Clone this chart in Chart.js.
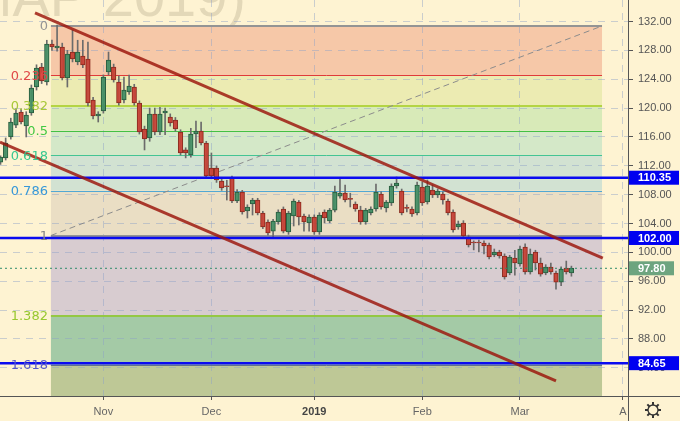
<!DOCTYPE html>
<html>
<head>
<meta charset="utf-8">
<script src="https://cdn.jsdelivr.net/npm/chart.js@4.4.1/dist/chart.umd.min.js"></script>
<style>
  html, body { margin: 0; padding: 0; background: #fef3d2; }
  canvas { display: block; }
</style>
</head>
<body>
<canvas id="grafico" width="680" height="421"></canvas>
<script>
// velas diarias (una por sesion)
const opens = [
  112.5, 113.08, 116.0, 117.65, 119.46, 117.52, 119.32, 122.92, 125.69, 123.62,
  128.88, 128.33, 128.47, 124.17, 127.77, 126.39, 127.22, 126.8, 121.12, 118.9,
  119.6, 125.0, 125.69, 123.62, 121.12, 122.23, 122.92, 120.7, 117.1, 115.86,
  119.18, 116.69, 119.32, 118.76, 118.35, 116.69, 114.2, 113.5, 116.41, 116.83,
  115.16, 111.7, 111.7, 109.89, 109.2, 110.31, 107.12, 108.37, 105.74, 106.71,
  107.26, 105.46, 104.21, 102.96, 104.21, 106.01, 102.83, 105.04, 106.98, 105.04,
  104.07, 104.91, 102.83, 105.6, 104.35, 105.87, 107.81, 108.23, 107.4, 106.71,
  105.87, 104.21, 105.46, 106.01, 108.09, 106.15, 106.85, 109.2, 108.51, 106.2,
  106.01, 105.46, 109.06, 106.98, 108.64, 107.95, 108.09, 107.12, 105.6, 103.52,
  104.07, 102.13, 101.35, 101.44, 101.3, 101.03, 99.64, 100.06, 99.5, 97.14,
  99.22, 98.39, 100.75, 97.28, 100.06, 98.53, 97.14, 97.97, 97.14, 95.89,
  97.83, 97.14
];
const highs = [
  113.4, 115.86, 118.6, 119.9, 119.9, 119.5, 123.2, 126.0, 126.2, 129.4,
  129.44, 131.5, 129.0, 128.0, 130.8, 129.4, 129.4, 129.16, 121.5, 119.5,
  124.6, 127.77, 126.1, 124.45, 124.31, 124.59, 123.3, 121.0, 117.5, 120.0,
  120.0, 120.1, 120.0, 119.2, 118.7, 117.0, 114.5, 117.2, 118.2, 118.07,
  115.4, 113.78, 112.0, 110.3, 110.0, 110.59, 108.7, 108.6, 106.6, 107.5,
  107.5, 105.7, 104.5, 104.6, 105.9, 106.3, 105.7, 107.4, 107.2, 105.3,
  105.2, 105.2, 105.5, 105.9, 106.1, 109.2, 110.17, 109.34, 108.2, 107.0,
  106.4, 106.1, 106.3, 109.47, 108.4, 107.2, 109.5, 110.45, 108.78, 106.6,
  106.3, 109.75, 109.75, 110.03, 109.34, 108.8, 108.4, 107.4, 105.9, 104.35,
  104.4, 102.4, 101.6, 101.7, 101.6, 101.3, 100.47, 100.3, 99.8, 99.6,
  100.3, 100.89, 101.2, 100.47, 100.3, 99.22, 98.3, 98.53, 97.4, 98.0,
  98.8, 98.1
];
const lows = [
  112.2, 112.8, 115.7, 117.3, 117.8, 116.0, 119.0, 122.5, 123.4, 123.2,
  128.0, 127.9, 123.9, 122.92, 126.4, 126.0, 125.6, 120.3, 118.5, 118.07,
  119.3, 124.6, 123.6, 120.4, 120.7, 121.9, 120.4, 116.4, 114.2, 115.4,
  116.3, 116.3, 116.3, 117.5, 116.8, 113.5, 113.1, 113.2, 114.5, 114.9,
  110.3, 110.2, 109.7, 108.6, 107.26, 106.9, 106.9, 105.3, 104.77, 105.18,
  105.2, 103.3, 102.4, 102.13, 103.9, 102.7, 102.5, 103.66, 103.8, 102.96,
  102.96, 102.5, 102.5, 104.07, 104.1, 105.6, 107.5, 107.0, 106.3, 105.7,
  103.9, 103.9, 105.2, 105.7, 106.0, 105.6, 106.5, 108.9, 105.2, 105.6,
  105.0, 105.2, 106.5, 106.7, 107.6, 107.6, 106.7, 105.2, 102.8, 103.2,
  102.0, 100.75, 100.35, 100.06, 99.78, 99.1, 99.4, 99.2, 96.3, 96.9,
  96.86, 98.1, 97.0, 97.0, 97.56, 96.7, 96.9, 97.0, 94.92, 95.4,
  97.0, 96.7
];
const closes = [
  113.2, 115.16, 118.07, 119.32, 118.07, 119.04, 122.78, 125.56, 123.75, 128.88,
  128.47, 128.6, 124.17, 127.5, 126.8, 127.77, 125.97, 120.7, 118.9, 119.18,
  124.31, 126.66, 123.9, 120.7, 122.51, 123.06, 120.7, 116.69, 115.72, 119.18,
  116.69, 119.18, 119.6, 117.93, 117.1, 113.78, 113.78, 116.41, 116.83, 115.16,
  110.59, 110.59, 110.03, 108.92, 109.1, 107.12, 108.37, 105.6, 106.29, 107.26,
  105.46, 103.52, 102.69, 104.35, 105.6, 102.96, 105.46, 107.12, 104.91, 104.21,
  104.91, 102.83, 105.18, 104.77, 105.87, 108.37, 108.23, 107.26, 107.35, 106.01,
  104.21, 105.87, 106.01, 108.37, 106.29, 106.98, 109.2, 109.61, 105.46, 106.1,
  105.32, 109.34, 106.85, 109.2, 107.95, 108.51, 107.26, 105.46, 103.1, 103.93,
  102.27, 101.03, 101.3, 101.3, 100.89, 99.36, 100.06, 99.5, 96.59, 99.36,
  98.53, 100.47, 97.28, 99.78, 98.53, 97.0, 97.97, 97.28, 95.89, 97.7,
  97.28, 97.8
];

// eje temporal: posicion de cada mes en numero de sesion
const monthTickIdx = [20, 41, 61, 82, 101, 121];
const monthLabels = ["Nov", "Dec", "2019", "Feb", "Mar", "A"];
const yTickValues = [84, 88, 92, 96, 100, 104, 108, 112, 116, 120, 124, 128, 132];

// retroceso de Fibonacci
const fibRatios = [0, 0.236, 0.382, 0.5, 0.618, 0.786, 1, 1.382, 1.618];
const fibHigh = 131.38;
const fibLow = 102.34;
const fibStartIdx = 9.8;
const fibEndIdx = 116.95;

// lineas de tendencia [sesion, precio]
const upperTrend = [[6.7, 133.18], [117.1, 99.22]];
const lowerTrend = [[-0.1, 115.3], [108.0, 82.18]];

// niveles horizontales y ultimo precio
const hLevels = [110.35, 102.00, 84.65];
const lastPrice = 97.80;

// estilos
const fondo = "#fef3d2";
const fibFill = ["#f6c8a8", "#ecebb2", "#d8eab8", "#d4e8c8", "#d2e2d2", "#eadec4", "#d8ccd0", "#a4caa6", "#bec896"];
const fibLine = ["#949494", "#e03a3a", "#b4d444", "#44c044", "#44c494", "#52a8d4", "#949494", "#94c844", "#607090"];
const fibText = ["#949494", "#e04848", "#a8c838", "#44c844", "#38c890", "#3898d8", "#868686", "#98c830", "#5858c8"];
const fibWidth = [2, 1, 2, 1, 1, 1, 2, 2, 1];

const fibValue = r => fibHigh - r * (fibHigh - fibLow);

const capaFondo = {
    id: "capaFondo",
    beforeDraw(chart) {
        const { ctx, chartArea: a, scales: { x, y } } = chart;
        ctx.save();
        ctx.fillStyle = fondo;
        ctx.fillRect(0, 0, chart.width, chart.height);

        // marca de agua
        ctx.font = '56px "Liberation Sans"';
        ctx.fillStyle = "rgba(120,110,80,0.2)";
        ctx.textAlign = "right";
        ctx.textBaseline = "alphabetic";
        ctx.fillText("(МАР 2019)", 246, 16);

        // zonas de Fibonacci
        const xl = x.getPixelForValue(fibStartIdx);
        const xr = x.getPixelForValue(fibEndIdx);
        fibRatios.forEach((r, k) => {
            const top = y.getPixelForValue(fibValue(r));
            const bottom = k < fibRatios.length - 1 ? y.getPixelForValue(fibValue(fibRatios[k + 1])) : a.bottom;
            ctx.fillStyle = fibFill[k];
            ctx.fillRect(xl, top, xr - xl, bottom - top);
        });
        ctx.restore();
    },
    beforeDatasetsDraw(chart) {
        const { ctx, scales: { x, y } } = chart;
        const xl = x.getPixelForValue(fibStartIdx);
        const xr = x.getPixelForValue(fibEndIdx);
        ctx.save();
        fibRatios.forEach((r, k) => {
            const py = Math.round(y.getPixelForValue(fibValue(r))) + (fibWidth[k] === 1 ? 0.5 : 0);
            ctx.strokeStyle = fibLine[k];
            ctx.lineWidth = fibWidth[k];
            ctx.beginPath();
            ctx.moveTo(xl, py);
            ctx.lineTo(xr, py);
            ctx.stroke();
        });
        ctx.restore();
    },
    afterDatasetsDraw(chart) {
        const { ctx, scales: { x, y } } = chart;
        const xl = x.getPixelForValue(fibStartIdx);
        ctx.save();
        ctx.font = '13px "DejaVu Sans"';
        ctx.textAlign = "right";
        ctx.textBaseline = "middle";
        fibRatios.forEach((r, k) => {
            ctx.fillStyle = fibText[k];
            ctx.fillText(String(r), xl - 3, y.getPixelForValue(fibValue(r)) + 1);
        });
        ctx.restore();
    },
    afterDraw(chart) {
        const { ctx, chartArea: a, scales: { y } } = chart;
        ctx.save();
        // ejes prolongados
        ctx.strokeStyle = "#555";
        ctx.lineWidth = 1;
        ctx.beginPath();
        ctx.moveTo(0, Math.round(a.bottom) + 0.5);
        ctx.lineTo(chart.width, Math.round(a.bottom) + 0.5);
        ctx.moveTo(Math.round(a.right) + 0.5, 0);
        ctx.lineTo(Math.round(a.right) + 0.5, chart.height);
        ctx.stroke();

        // etiquetas del eje de precios
        ctx.font = 'bold 11px "Liberation Sans"';
        ctx.textAlign = "left";
        ctx.textBaseline = "middle";
        const etiqueta = (v, color, ancho) => {
            const py = y.getPixelForValue(v);
            ctx.fillStyle = color;
            ctx.fillRect(a.right + 1, py - 7, ancho, 14);
            ctx.fillStyle = "#fff";
            ctx.fillText(v.toFixed(2), a.right + 10, py + 0.5);
        };
        hLevels.forEach(v => etiqueta(v, "#0000f0", 50));
        etiqueta(lastPrice, "#6da47f", 45);

        // icono de ajustes
        const cx = 653, cy = 410;
        ctx.strokeStyle = "#333";
        ctx.lineWidth = 1.3;
        ctx.beginPath();
        ctx.arc(cx, cy, 5, 0, Math.PI * 2);
        ctx.stroke();
        ctx.lineWidth = 2;
        for (let k = 0; k < 8; k++) {
            const ang = k * Math.PI / 4;
            ctx.beginPath();
            ctx.moveTo(cx + Math.cos(ang) * 5, cy + Math.sin(ang) * 5);
            ctx.lineTo(cx + Math.cos(ang) * 8, cy + Math.sin(ang) * 8);
            ctx.stroke();
        }
        ctx.restore();
    }
};

const sube = i => closes[i] >= opens[i];
const puntos = arr => arr.map(p => ({ x: p[0], y: p[1] }));
const horizontal = v => [{ x: -0.1, y: v }, { x: 122, y: v }];

Chart.defaults.font.family = '"Liberation Sans", Arial, sans-serif';

const ctx = document.getElementById("grafico").getContext("2d");
const chart = new Chart(ctx, {
    type: "bar",
    data: {
        datasets: [
            {
                type: "line", data: puntos(upperTrend), borderColor: "rgba(155,20,10,0.82)",
                borderWidth: 3, pointRadius: 0, order: 0
            },
            {
                type: "line", data: puntos(lowerTrend), borderColor: "rgba(155,20,10,0.82)",
                borderWidth: 3, pointRadius: 0, order: 0
            },
            ...hLevels.map(v => ({
                type: "line", data: horizontal(v), borderColor: "#0a0af0",
                borderWidth: 2.5, pointRadius: 0, order: 1
            })),
            {
                type: "line", data: horizontal(lastPrice), borderColor: "#2e8b6a",
                borderWidth: 1, borderDash: [2, 3], pointRadius: 0, order: 2
            },
            {
                label: "cuerpo",
                data: opens.map((o, i) => ({ x: i, y: [o, closes[i]] })),
                backgroundColor: c => sube(c.dataIndex) ? "rgba(66,150,104,0.8)" : "rgba(214,62,50,0.8)",
                borderColor: c => sube(c.dataIndex) ? "#2c5e40" : "#8a2e22",
                borderWidth: 1, borderSkipped: false, barThickness: 4.6, minBarLength: 1,
                grouped: false, order: 3
            },
            {
                label: "mecha",
                data: opens.map((o, i) => ({ x: i, y: [lows[i], highs[i]] })),
                backgroundColor: "#6b6b6b",
                barThickness: 1, grouped: false, order: 4
            },
            {
                type: "line",
                data: [{ x: fibStartIdx, y: fibLow }, { x: fibEndIdx, y: fibHigh }],
                borderColor: "#8c8c8c", borderWidth: 1, borderDash: [6, 4], pointRadius: 0, order: 5
            }
        ]
    },
    options: {
        responsive: false,
        animation: false,
        layout: { padding: 0 },
        plugins: { legend: { display: false }, tooltip: { enabled: false } },
        scales: {
            x: {
                type: "linear", min: -0.1, max: 122, offset: false,
                grid: { color: "rgba(140,160,200,0.45)", offset: false, tickLength: 4, tickColor: "#555", tickWidth: 1, tickBorderDash: [] },
                border: { display: true, color: "#555", dash: [7, 6] },
                afterBuildTicks: s => { s.ticks = monthTickIdx.map(v => ({ value: v })); },
                afterFit: s => { s.height = 25; s.paddingLeft = 0; s.paddingRight = 0; },
                ticks: {
                    autoSkip: false, maxRotation: 0, padding: 5,
                    callback: v => monthLabels[monthTickIdx.indexOf(v)],
                    color: c => (c.tick && c.tick.value === 61) ? "#444" : "#666",
                    font: c => ({ size: 11, weight: (c.tick && c.tick.value === 61) ? "bold" : "normal" })
                }
            },
            y: {
                position: "right", min: 80.1, max: 134.98, beginAtZero: false,
                grid: { color: "rgba(140,160,200,0.45)", tickLength: 5, tickColor: "#555", tickWidth: 1, tickBorderDash: [] },
                border: { display: true, color: "#555", dash: [7, 6] },
                afterBuildTicks: s => { s.ticks = yTickValues.map(v => ({ value: v })); },
                afterFit: s => { s.width = 52; s.paddingTop = 0; s.paddingBottom = 0; },
                ticks: {
                    padding: 5, color: "#555", font: { size: 11 },
                    callback: v => v.toFixed(2)
                }
            }
        }
    },
    plugins: [capaFondo]
});
</script>
</body>
</html>
